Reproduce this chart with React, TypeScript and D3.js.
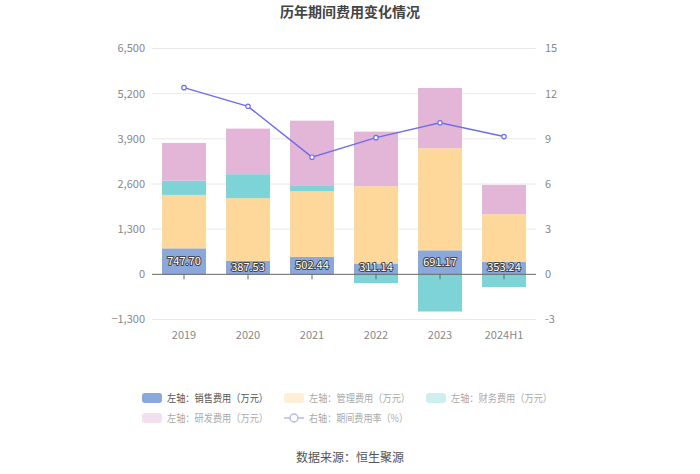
import React from "react";
import * as d3 from "d3";

const categories = ["2019", "2020", "2021", "2022", "2023", "2024H1"];
const salesExp = [747.7, 387.53, 502.44, 311.14, 691.17, 353.24];
const adminExp = [1538, 1804, 1890, 2225, 2938, 1378];
const financeExp = [412, 691, 172, -250, -1070, -368];
const rdExp = [1084, 1312, 1858, 1571, 1735, 843];
const expenseRate = [12.4, 11.16, 7.78, 9.08, 10.06, 9.15];
const leftTicks = [-1300, 0, 1300, 2600, 3900, 5200, 6500];
const rightTicks = [-3, 0, 3, 6, 9, 12, 15];

const seriesNames = [
  "左轴：销售费用（万元）",
  "左轴：管理费用（万元）",
  "左轴：财务费用（万元）",
  "左轴：研发费用（万元）",
  "右轴：期间费用率（%）",
];

const colors = ["#8BA8DA", "#FED89A", "#7DD3D5", "#E3B6D8"];
const fadedColors = ["#8BA8DA", "#FEEFD6", "#CDEFF0", "#F3E0EF"];
const lineColor = "#6E6FE8";
const font = "'Microsoft YaHei', 'Noto Sans CJK SC', sans-serif";

export default function App() {
  const W = 700;
  const H = 474;
  const left = 152;
  const right = 536;
  const top = 48.5;
  const bottom = 319.5;

  const x = d3.scaleBand<string>().domain(categories).range([left, right]).paddingInner(0.3125).paddingOuter(0.15625);
  const band = d3.scaleBand<string>().domain(categories).range([left, right]);
  const yL = d3.scaleLinear().domain([-1300, 6500]).range([bottom, top]);
  const yR = d3.scaleLinear().domain([-3, 15]).range([bottom, top]);

  const seriesData = [salesExp, adminExp, financeExp, rdExp];
  const segments: { cat: string; i: number; y0: number; y1: number }[] = [];
  categories.forEach((c, ci) => {
    let pos = 0;
    let neg = 0;
    seriesData.forEach((arr, si) => {
      const v = arr[ci];
      if (v >= 0) {
        segments.push({ cat: c, i: si, y0: pos, y1: pos + v });
        pos += v;
      } else {
        segments.push({ cat: c, i: si, y0: neg + v, y1: neg });
        neg += v;
      }
    });
  });

  const cx = (c: string) => (band(c) ?? 0) + band.bandwidth() / 2;
  const line = d3
    .line<number>()
    .x((_, i) => cx(categories[i]))
    .y((d) => yR(d));

  const legendItems = [
    { x: 142, y: 398, w: 101 },
    { x: 284, y: 398, w: 101 },
    { x: 426, y: 398, w: 101 },
    { x: 142, y: 418, w: 101 },
    { x: 284, y: 418, w: 99 },
  ];

  return (
    <svg width={W} height={H} style={{ position: "absolute", left: 0, top: 0, fontFamily: font }}>
      <rect width={W} height={H} fill="#fff" />
      <text x={350} y={17} textAnchor="middle" fontSize={14} fontWeight="bold" fill="#444">
        历年期间费用变化情况
      </text>
      {leftTicks.map((t) => (
        <g key={"g" + t}>
          {t !== 0 && <line x1={left} x2={right} y1={yL(t)} y2={yL(t)} stroke="#E8E8EE" strokeWidth={1} />}
          <text x={145} y={yL(t)} dy="0.35em" textAnchor="end" fontSize={11} fill="#888">
            {d3.format(",")(t)}
          </text>
        </g>
      ))}
      {rightTicks.map((t) => (
        <text key={"r" + t} x={545} y={yR(t)} dy="0.35em" textAnchor="start" fontSize={11} fill="#888">
          {t}
        </text>
      ))}
      {segments.map((s, k) => (
        <rect
          key={k}
          x={x(s.cat)}
          width={x.bandwidth()}
          y={yL(s.y1)}
          height={Math.max(0, yL(s.y0) - yL(s.y1))}
          fill={colors[s.i]}
        />
      ))}
      <line x1={left} x2={right} y1={yL(0)} y2={yL(0)} stroke="#666" strokeWidth={1} />
      {categories.map((c) => (
        <g key={"t" + c}>
          <line x1={cx(c)} x2={cx(c)} y1={yL(0)} y2={yL(0) + 5} stroke="#666" />
          <text x={cx(c)} y={335} dy="0.35em" textAnchor="middle" fontSize={11} fill="#888">
            {c}
          </text>
        </g>
      ))}
      {categories.map((c, i) => (
        <text
          key={"l" + c}
          x={cx(c)}
          y={Math.min(yL(salesExp[i] / 2), yL(0) - 7)}
          dy="0.35em"
          textAnchor="middle"
          fontSize={11}
          fill="#fff"
          stroke="#444"
          strokeWidth={2}
          paintOrder="stroke"
          strokeLinejoin="round"
        >
          {salesExp[i].toFixed(2)}
        </text>
      ))}
      <path d={line(expenseRate) ?? ""} fill="none" stroke={lineColor} strokeWidth={1.5} />
      {expenseRate.map((v, i) => (
        <circle key={"p" + i} cx={cx(categories[i])} cy={yR(v)} r={2.2} fill="#fff" stroke={lineColor} strokeWidth={1.2} />
      ))}
      {legendItems.map((p, i) => (
        <g key={"lg" + i}>
          {i < 4 ? (
            <rect x={p.x} y={p.y - 5} width={20} height={10} rx={3} fill={fadedColors[i]} />
          ) : (
            <g>
              <line x1={p.x} x2={p.x + 20} y1={p.y} y2={p.y} stroke="#B8B8F2" strokeWidth={1.5} />
              <circle cx={p.x + 10} cy={p.y} r={4} fill="#fff" stroke="#B8B8F2" strokeWidth={1.5} />
            </g>
          )}
          <text
            x={p.x + 25}
            y={p.y}
            dy="0.35em"
            fontSize={10.5}
            textLength={p.w}
            lengthAdjust="spacingAndGlyphs"
            fill={i === 0 ? "#555" : "#AAA"}
          >
            {seriesNames[i]}
          </text>
        </g>
      ))}
      <text x={350} y={458} dy="0.35em" textAnchor="middle" fontSize={12} fill="#555">
        数据来源：恒生聚源
      </text>
    </svg>
  );
}
